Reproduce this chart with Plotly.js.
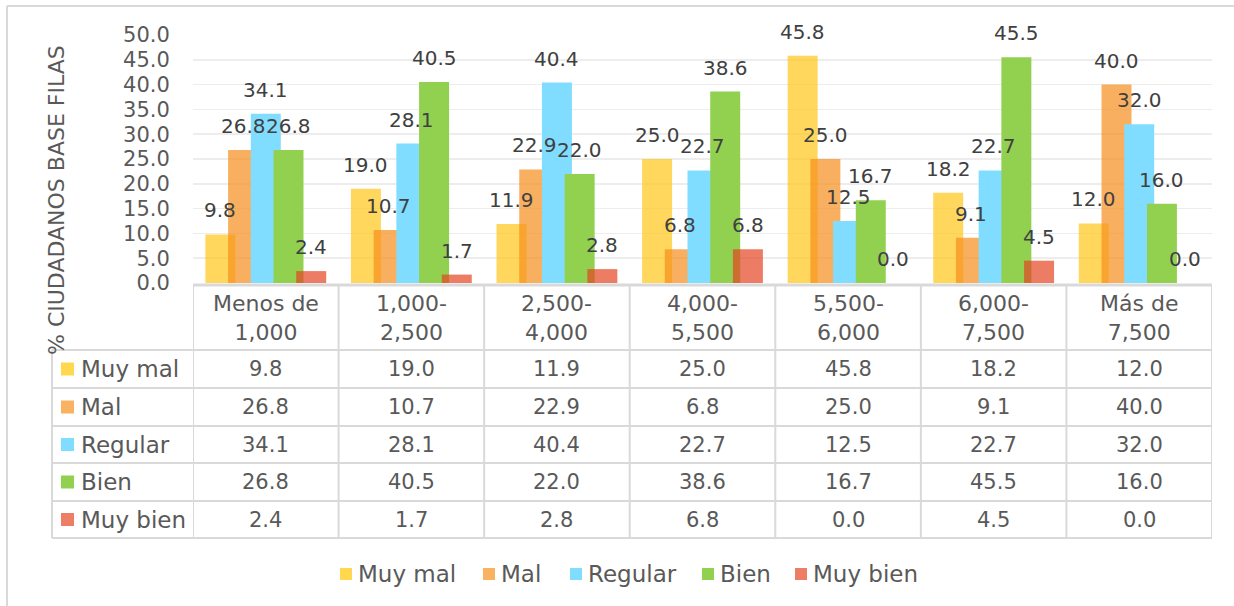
<!DOCTYPE html>
<html>
<head>
<meta charset="utf-8">
<script src="https://cdn.plot.ly/plotly-3.0.1.min.js"></script>
<style>html,body{margin:0;padding:0;background:#fff;}#chart{width:1234px;height:606px;}</style>
</head>
<body>
<div id="chart"></div>
<script>
const categories = ["Menos de 1,000","1,000-2,500","2,500-4,000","4,000-5,500","5,500-6,000","6,000-7,500","Más de 7,500"];
const headerLabels = ["Menos de<br>1,000","1,000-<br>2,500","2,500-<br>4,000","4,000-<br>5,500","5,500-<br>6,000","6,000-<br>7,500","Más de<br>7,500"];
const seriesNames = ["Muy mal","Mal","Regular","Bien","Muy bien"];
const muyMal  = [9.8, 19.0, 11.9, 25.0, 45.8, 18.2, 12.0];
const mal     = [26.8, 10.7, 22.9, 6.8, 25.0, 9.1, 40.0];
const regular = [34.1, 28.1, 40.4, 22.7, 12.5, 22.7, 32.0];
const bien    = [26.8, 40.5, 22.0, 38.6, 16.7, 45.5, 16.0];
const muyBien = [2.4, 1.7, 2.8, 6.8, 0.0, 4.5, 0.0];
const yTitle = "% CIUDADANOS BASE FILAS";

const seriesValues = [muyMal, mal, regular, bien, muyBien];
const barColors = ["rgba(255,200,30,0.72)","rgba(245,142,28,0.70)","#80DDFF","#92D050","rgba(228,69,34,0.70)"];
const keyColors = ["#FFD84F","#F9B162","#80DDFF","#92D050","#EE7D66"];

const FONT = "DejaVu Sans";
const TXT = "#595959";

// geometry helpers (pixel -> paper)
const L = 193, R = 1212, T = 35, B = 283;
const px = X => (X - L) / (R - L);
const py = Y => (B - Y) / (B - T);

const step = 0.156, bw = 0.206;

const traces = seriesValues.map((vals, j) => ({
  type: "bar",
  name: seriesNames[j],
  x: categories,
  y: vals,
  width: categories.map(() => bw),
  offset: categories.map(() => (j - 2) * step - bw / 2),
  marker: {color: barColors[j], line: {width: 0}},
  showlegend: false,
  hoverinfo: "skip"
}));

const annotations = [];
const shapes = [];

// data labels
seriesValues.forEach((vals, j) => {
  vals.forEach((v, i) => {
    annotations.push({
      xref: "x", yref: "y", x: i + (j - 2) * step, y: v,
      text: v.toFixed(1), showarrow: false, yanchor: "middle", yshift: 24,
      font: {family: FONT, size: 20, color: "#404040"}
    });
  });
});

// y axis title
annotations.push({
  xref: "paper", yref: "paper", x: px(56), y: py(200), text: yTitle,
  textangle: -90, showarrow: false, xanchor: "center", yanchor: "middle",
  font: {family: FONT, size: 22, color: TXT}
});

// table
const rowTops = [350, 388, 426, 463, 501, 538];
const lineCol = "#D9D9D9";
headerLabels.forEach((h, i) => {
  annotations.push({
    xref: "x", yref: "paper", x: i, y: py(318), text: h, showarrow: false,
    align: "center", yanchor: "middle",
    font: {family: FONT, size: 22, color: TXT}
  });
});
seriesValues.forEach((vals, j) => {
  const yc = (rowTops[j] + rowTops[j + 1]) / 2;
  vals.forEach((v, i) => {
    annotations.push({
      xref: "x", yref: "paper", x: i, y: py(yc), text: v.toFixed(1), showarrow: false,
      yanchor: "middle", font: {family: FONT, size: 21, color: TXT}
    });
  });
  annotations.push({
    xref: "paper", yref: "paper", x: px(79), y: py(yc), text: seriesNames[j], showarrow: false,
    xanchor: "left", yanchor: "middle", font: {family: FONT, size: 23, color: TXT}
  });
  shapes.push({
    type: "rect", xref: "paper", yref: "paper", x0: px(61), x1: px(74),
    y0: py(yc - 6.5), y1: py(yc + 6.5), fillcolor: keyColors[j], line: {width: 0}
  });
});
// table grid
shapes.push({type: "line", xref: "paper", yref: "paper", x0: px(193), x1: px(1212), y0: py(285), y1: py(285), line: {color: lineCol, width: 3}});
rowTops.forEach(yy => {
  shapes.push({type: "line", xref: "paper", yref: "paper", x0: px(52), x1: px(1212), y0: py(yy), y1: py(yy), line: {color: lineCol, width: 2}});
});
for (let i = 0; i <= categories.length; i++) {
  shapes.push({type: "line", xref: "x", yref: "paper", x0: i - 0.5, x1: i - 0.5, y0: py(285), y1: py(538), line: {color: lineCol, width: 2}});
}
shapes.push({type: "line", xref: "paper", yref: "paper", x0: px(52), x1: px(52), y0: py(350), y1: py(538), line: {color: lineCol, width: 2}});

// outer chart border (left and top visible)
shapes.push({type: "line", xref: "paper", yref: "paper", x0: px(7), x1: px(7), y0: py(6), y1: py(620), line: {color: lineCol, width: 2}});
shapes.push({type: "line", xref: "paper", yref: "paper", x0: px(7), x1: px(1250), y0: py(6), y1: py(6), line: {color: lineCol, width: 2}});

// bottom legend
const legendKeyX = [340, 483, 570, 702, 795];
seriesNames.forEach((n, j) => {
  const kx = legendKeyX[j];
  shapes.push({type: "rect", xref: "paper", yref: "paper", x0: px(kx), x1: px(kx + 12),
    y0: py(580), y1: py(568), fillcolor: keyColors[j], line: {width: 0}});
  annotations.push({xref: "paper", yref: "paper", x: px(kx + 16), y: py(574), text: n, showarrow: false,
    xanchor: "left", yanchor: "middle", font: {family: FONT, size: 23, color: TXT}});
});

const layout = {
  width: 1234, height: 606,
  margin: {l: L, r: 1234 - R, t: T, b: 606 - B, pad: 0},
  paper_bgcolor: "#ffffff", plot_bgcolor: "#ffffff",
  barmode: "overlay",
  showlegend: false,
  font: {family: FONT, color: TXT, size: 21},
  xaxis: {type: "category", range: [-0.5, 6.5], showticklabels: false, showgrid: false,
    zeroline: false, ticks: "", showline: false, fixedrange: true},
  yaxis: {range: [0, 50], tick0: 0, dtick: 5, tickformat: ".1f", showgrid: true,
    gridcolor: "#EDEDED", gridwidth: 1.5, zeroline: false, showline: false,
    ticks: "outside", ticklen: 18, tickcolor: "rgba(0,0,0,0)",
    tickfont: {family: FONT, size: 21, color: TXT}, fixedrange: true},
  annotations: annotations,
  shapes: shapes
};

Plotly.newPlot("chart", traces, layout, {displayModeBar: false, staticPlot: true});
</script>
</body>
</html>
